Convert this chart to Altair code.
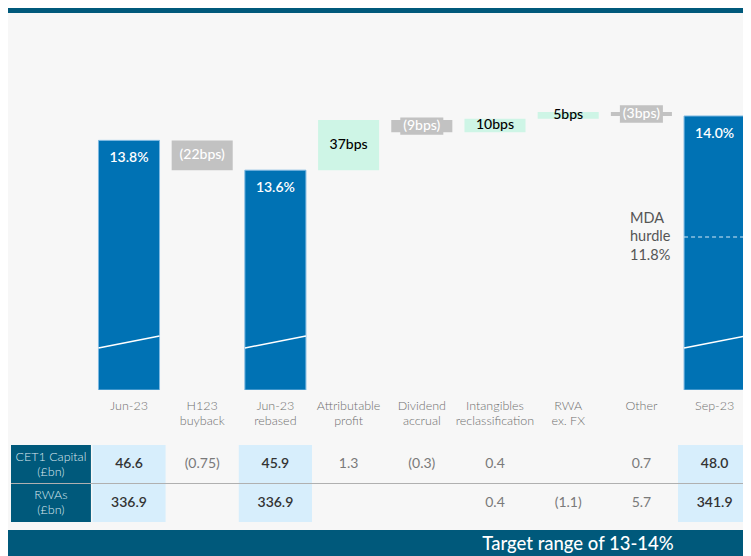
import altair as alt
import pandas as pd

# ---------------- data ----------------
categories = ["Jun-23", "H123\nbuyback", "Jun-23\nrebased", "Attributable\nprofit",
              "Dividend\naccrual", "Intangibles\nreclassification", "RWA\nex. FX", "Other", "Sep-23"]
bar_kind = ["total", "step", "total", "step", "step", "step", "step", "step", "total"]
cet1_ratio_pct = [13.82, None, 13.60, None, None, None, None, None, 14.00]
change_bps = [None, -22, None, 37, -9, 10, 5, -3, None]
cet1_capital_gbp_bn = ["46.6", "(0.75)", "45.9", "1.3", "(0.3)", "0.4", "", "0.7", "48.0"]
rwas_gbp_bn = ["336.9", "", "336.9", "", "", "0.4", "(1.1)", "5.7", "341.9"]
row_headers = ["CET1 Capital\n(£bn)", "RWAs\n(£bn)"]
mda_hurdle_pct = 11.8
banner_text = "Target range of 13-14%"

# ---------------- styling / layout ----------------
BLUE = "#0072b4"
BORDER = "#7db9e2"
GREY = "#c2c2c2"
MINT = "#cef5e6"
DARK = "#00597b"
CELL_BLUE = "#d7eefc"
BG = "#f7f7f7"
FONT = "Lato"

W = 735
X_DOMAIN = [-1.653, 8.388]
Y_MIN, Y_MAX = 11.978, 14.76      # broken axis (bars are cut)
HALF = 0.417                      # half bar width (index units)
MDA_DISPLAY_LEVEL = 13.107        # schematic position on the broken axis
BREAK_Y = (12.288, 12.376)

# ---------------- derived table ----------------
rows = []
level = None
for i, (cat, kind) in enumerate(zip(categories, bar_kind)):
    if kind == "total":
        level = cet1_ratio_pct[i]
        start, end = Y_MIN, level
        label = f"{level:.1f}%"
        delta = 0.0
    else:
        b = change_bps[i]
        delta = b / 100.0
        start, end = level, level + delta
        level = end
        label = f"{b}bps" if b > 0 else f"({-b}bps)"
    mid = (start + end) / 2
    rows.append(dict(i=i, cat=cat, kind=kind, start=start, end=end, mid=mid, delta=delta,
                     label=label, x0=i - HALF, x1=i + HALF,
                     bx0=i - 0.294, bx1=i + 0.294, by0=mid - 0.064, by1=mid + 0.064,
                     brk0=BREAK_Y[0], brk1=BREAK_Y[1], mda=MDA_DISPLAY_LEVEL,
                     tx=i - 1.156))
df = pd.DataFrame(rows)

xs = alt.Scale(domain=X_DOMAIN, nice=False, zero=False)
ys = alt.Scale(domain=[Y_MIN, Y_MAX], nice=False, zero=False)
base = alt.Chart(df)

def X(f):
    return alt.X(f, type="quantitative", scale=xs, axis=None)

def Y(f):
    return alt.Y(f, type="quantitative", scale=ys, axis=None)

totals = base.transform_filter("datum.kind == 'total'")
steps = base.transform_filter("datum.kind == 'step'")

total_bars = totals.mark_rect(color=BLUE, stroke=BORDER, strokeWidth=1, clip=True).encode(
    x=X("x0"), x2="x1", y=Y("start"), y2="end")
step_bars = steps.mark_rect().encode(
    x=X("x0"), x2="x1", y=Y("start"), y2="end",
    color=alt.condition("datum.delta < 0", alt.value(GREY), alt.value(MINT)))
label_boxes = steps.transform_filter("datum.delta < 0 && abs(datum.delta) < 0.15").mark_rect(color=GREY).encode(
    x=X("bx0"), x2="bx1", y=Y("by0"), y2="by1")
break_lines = totals.mark_rule(color="white", strokeWidth=1.5, clip=True).encode(
    x=X("x0"), x2="x1", y=Y("brk0"), y2="brk1")
mda_line = totals.transform_filter("datum.i == 8").mark_rule(
    color="#d4e8f6", strokeWidth=1, strokeDash=[4, 3], clip=True).encode(
    x=X("x0"), x2="x1", y=Y("mda"))
mda_text = totals.transform_filter("datum.i == 8").mark_text(
    align="left", baseline="middle", lineBreak="\n", lineHeight=18.5, fontSize=14.5, dy=-18.5,
    fontWeight=400, font=FONT, color="#555555").encode(
    x=X("tx"), y=Y("mda"), text=alt.value(f"MDA\nhurdle\n{mda_hurdle_pct}%"))
total_text = totals.mark_text(dy=18, baseline="middle", fontSize=14, fontWeight=600,
                              font=FONT, color="white").encode(
    x=X("i"), y=Y("end"), text="label")
step_text = steps.mark_text(baseline="middle", fontSize=14, fontWeight=500, font=FONT).encode(
    x=X("i"), y=Y("mid"), text="label",
    color=alt.condition("datum.delta < 0", alt.value("white"), alt.value("black")))

main = alt.layer(total_bars, step_bars, label_boxes, break_lines, mda_line, mda_text,
                 total_text, step_text).properties(width=W, height=377)

# category labels
labels = base.mark_text(baseline="top", lineBreak="\n", lineHeight=15, fontSize=12.5,
                        fontWeight=300, font=FONT, color="#6f6f6f").encode(
    x=X("i"), y=alt.value(10), text="cat").properties(width=W, height=55)

# table
tbl_rows = []
for r, vals in enumerate([cet1_capital_gbp_bn, rwas_gbp_bn]):
    for i, v in enumerate(vals):
        tbl_rows.append(dict(i=i, r=r + 0.5, v=v, total=bar_kind[i] == "total"))
tdf = pd.DataFrame(tbl_rows)
hdf = pd.DataFrame(dict(h=row_headers, r0=[0, 1], r1=[1, 2], r=[0.5, 1.5],
                        hx0=[-1.612] * 2, hx1=[-0.52] * 2, hx=[-1.066] * 2))
cdf = df[df.kind == "total"].assign(c0=lambda d: d.i - 0.5, c1=lambda d: d.i + 0.5, r0=0, r1=2)
sdf = pd.DataFrame(dict(sx0=[-1.612], sx1=[8.5], r=[1]))

tys = alt.Scale(domain=[0, 2], range=[0, 77], nice=False, zero=False)

def TY(f):
    return alt.Y(f, type="quantitative", scale=tys, axis=None)

cells = alt.Chart(cdf).mark_rect(color=CELL_BLUE, clip=True).encode(
    x=X("c0"), x2="c1", y=TY("r0"), y2="r1")
hcells = alt.Chart(hdf).mark_rect(color=DARK).encode(x=X("hx0"), x2="hx1", y=TY("r0"), y2="r1")
sep = alt.Chart(sdf).mark_rule(color="#b0b0b0", strokeWidth=1, clip=True).encode(
    x=X("sx0"), x2="sx1", y=TY("r"))
htext = alt.Chart(hdf).mark_text(lineBreak="\n", lineHeight=15, fontSize=12.5, fontWeight=300, dy=-7.5,
                                 font=FONT, color="#dbe8ef", baseline="middle").encode(
    x=X("hx"), y=TY("r"), text="h")
vt_bold = alt.Chart(tdf).transform_filter("datum.total").mark_text(
    fontSize=14, fontWeight=600, font=FONT, color="#333333", baseline="middle").encode(
    x=X("i"), y=TY("r"), text="v")
vt_norm = alt.Chart(tdf).transform_filter("!datum.total").mark_text(
    fontSize=14, fontWeight=400, font=FONT, color="#7a7a7a", baseline="middle").encode(
    x=X("i"), y=TY("r"), text="v")
table = alt.layer(cells, hcells, sep, htext, vt_bold, vt_norm).properties(width=W, height=85)

# decorative bands
one = pd.DataFrame(dict(t=[banner_text]))
top_bar = alt.Chart(one).mark_rect(color=DARK).encode(
    x=alt.value(0), x2=alt.value(W), y=alt.value(0), y2=alt.value(5)).properties(width=W, height=5)
banner_bg = alt.Chart(one).mark_rect(color=DARK).encode(
    x=alt.value(0), x2=alt.value(W), y=alt.value(0), y2=alt.value(26))
banner_txt = alt.Chart(one).mark_text(fontSize=18.5, font=FONT, fontWeight=500, color="white",
                                      baseline="middle", align="center").encode(
    x=alt.value(570), y=alt.value(14), text="t")
banner = alt.layer(banner_bg, banner_txt).properties(width=W, height=26)

chart = alt.vconcat(top_bar, main, labels, table, banner, spacing=0).properties(
    padding=0, background=BG).configure_view(strokeWidth=0)

chart.save("out.html", embed_options={"renderer": "svg", "actions": False})
